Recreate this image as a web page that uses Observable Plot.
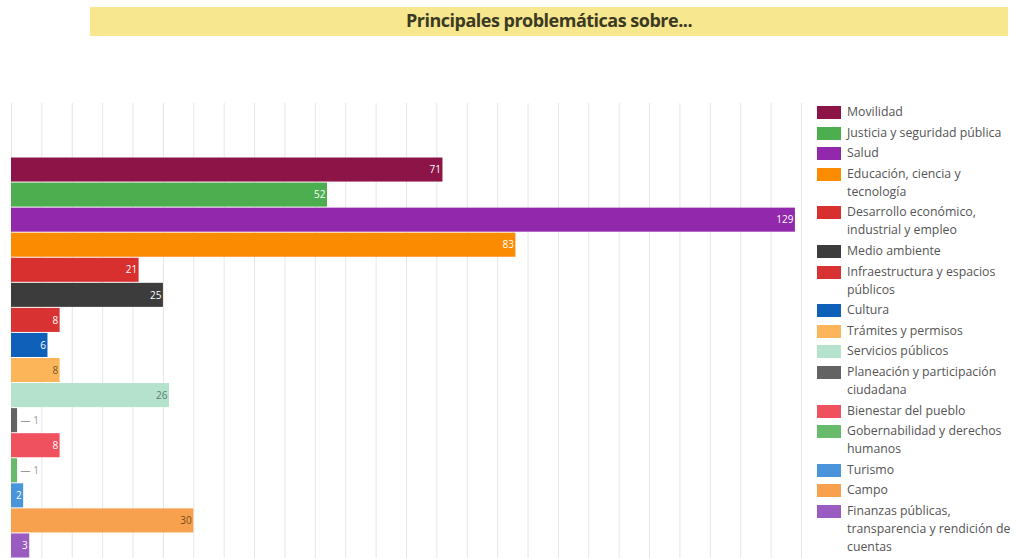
<!DOCTYPE html>
<html>
<head>
<meta charset="utf-8">
<script src="https://cdn.jsdelivr.net/npm/d3@7"></script>
<script src="https://cdn.jsdelivr.net/npm/@observablehq/plot@0.6"></script>
<style>
  html, body { margin: 0; padding: 0; background: #fff; width: 1019px; height: 558px; overflow: hidden; position: relative; font-family: "Open Sans", sans-serif; }
  #title { position: absolute; left: 90px; top: 7px; width: 918px; height: 29px; background: #f7e78f; text-align: center; line-height: 27px; font-weight: 700; font-size: 18px; color: #3b3a22; letter-spacing: -0.5px; }
  #chart { position: absolute; left: 0; top: 103px; }
  #legend { position: absolute; left: 817px; top: 103px; width: 202px; font-size: 12.3px; color: #555; }
  .item { display: flex; align-items: flex-start; margin-bottom: 2.6px; }
  .sw { width: 24px; height: 13px; flex: none; margin-top: 3px; margin-right: 6px; }
  .lab { width: 172px; line-height: 18px; }
</style>
</head>
<body>
<div id="title">Principales problemáticas sobre...</div>
<div id="chart"></div>
<div id="legend"></div>
<script>
const categories = [
  "Movilidad",
  "Justicia y seguridad pública",
  "Salud",
  "Educación, ciencia y tecnología",
  "Desarrollo económico, industrial y empleo",
  "Medio ambiente",
  "Infraestructura y espacios públicos",
  "Cultura",
  "Trámites y permisos",
  "Servicios públicos",
  "Planeación y participación ciudadana",
  "Bienestar del pueblo",
  "Gobernabilidad y derechos humanos",
  "Turismo",
  "Campo",
  "Finanzas públicas, transparencia y rendición de cuentas"
];
const values = [71, 52, 129, 83, 21, 25, 8, 6, 8, 26, 1, 8, 1, 2, 30, 3];
const colors = [
  "#8c1446", "#4cae4f", "#9229ad", "#fb8b00", "#d7302f", "#3c3c3c",
  "#d93232", "#0f60b8", "#fdb55a", "#b4e2cd", "#636363", "#f0515f",
  "#67bb6a", "#4a94dc", "#f7a14e", "#9a5cc0"
];
const gridTicks = d3.range(0, 131, 5);

const data = categories.map((c, i) => ({category: c, value: values[i]}));
const darkLabel = new Map([
  ["Trámites y permisos", "#7a5a2e"],
  ["Servicios públicos", "#5e7d70"],
  ["Campo", "#7a4a1e"]
]);

const chart = Plot.plot({
  width: 810,
  height: 455,
  marginLeft: 11,
  marginRight: 9,
  marginTop: 54,
  marginBottom: 0,
  style: {fontFamily: "Open Sans", fontSize: "10px", background: "transparent"},
  x: {domain: [0, 130], axis: null},
  y: {domain: categories, axis: null, paddingInner: 0.04, paddingOuter: 0.02, round: false},
  color: {domain: categories, range: colors},
  marks: [
    Plot.ruleX(gridTicks, {stroke: "#e6e6e6", strokeWidth: 1, insetTop: -54}),
    Plot.barX(data, {x: "value", y: "category", fill: "category"}),
    Plot.text(data.filter(d => d.value > 1), {
      x: "value", y: "category", text: d => String(d.value),
      textAnchor: "end", dx: -2,
      fill: d => darkLabel.get(d.category) || "#ffffff"
    }),
    Plot.text(data.filter(d => d.value <= 1), {
      x: "value", y: "category", text: d => "— " + d.value,
      textAnchor: "start", dx: 3, fill: "#9a9a9a"
    })
  ]
});
document.getElementById("chart").appendChild(chart);

const legend = document.getElementById("legend");
categories.forEach((c, i) => {
  const item = document.createElement("div");
  item.className = "item";
  const sw = document.createElement("div");
  sw.className = "sw";
  sw.style.background = colors[i];
  const lab = document.createElement("div");
  lab.className = "lab";
  lab.textContent = c;
  item.appendChild(sw);
  item.appendChild(lab);
  legend.appendChild(item);
});
</script>
</body>
</html>
